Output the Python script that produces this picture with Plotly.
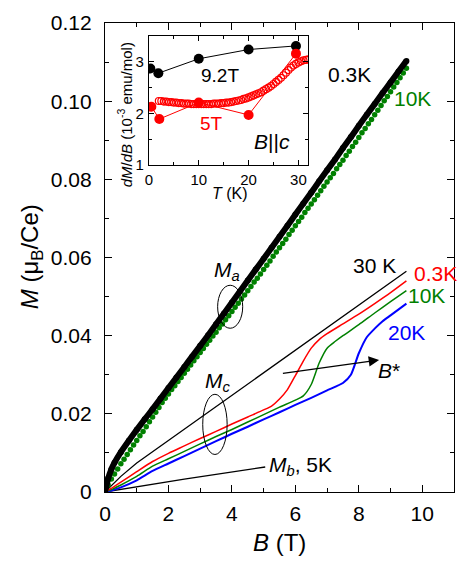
import plotly.graph_objects as go

# ---------------- data ----------------
# Ma, 0.3 K (black dots)
Ba_03 = [0, 0.1, 0.2, 0.3, 0.5, 0.75, 1.0, 1.25, 1.5, 1.75, 2.0, 2.25, 2.5, 2.75, 3.0, 3.25, 3.5, 3.75,
         4.0, 4.25, 4.5, 4.75, 5.0, 5.25, 5.5, 5.75, 6.0, 6.25, 6.5, 6.75, 7.0, 7.25, 7.5, 7.75, 8.0,
         8.25, 8.5, 8.75, 9.0, 9.25, 9.5]
Ma_03 = [0, 0.0035, 0.0058, 0.0075, 0.0102, 0.0131, 0.0159, 0.0186, 0.0212, 0.0239, 0.0266, 0.0293,
         0.0320, 0.0347, 0.0374, 0.0401, 0.0429, 0.0457, 0.0485, 0.0513, 0.0541, 0.0569, 0.0597, 0.0625,
         0.0653, 0.0681, 0.0710, 0.0738, 0.0766, 0.0795, 0.0823, 0.0851, 0.0880, 0.0908, 0.0937, 0.0965,
         0.0993, 0.1021, 0.1048, 0.1076, 0.1103]
# Ma, 10 K (green dots)
Ba_10 = [0.0, 0.1, 0.2, 0.3, 0.4, 0.5, 0.6, 0.7, 0.8, 0.9, 1.0, 1.1, 1.2, 1.3, 1.4, 1.5, 1.6, 1.7,
         1.8, 1.9, 2.0, 2.1, 2.2, 2.3, 2.4, 2.5, 2.6, 2.7, 2.8, 2.9, 3.0, 3.1, 3.2, 3.3, 3.4, 3.5,
         3.6, 3.7, 3.8, 3.9, 4.0, 4.1, 4.2, 4.3, 4.4, 4.5, 4.6, 4.7, 4.8, 4.9, 5.0, 5.1, 5.2, 5.3,
         5.4, 5.5, 5.6, 5.7, 5.8, 5.9, 6.0, 6.1, 6.2, 6.3, 6.4, 6.5, 6.6, 6.7, 6.8, 6.9, 7.0, 7.1,
         7.2, 7.3, 7.4, 7.5, 7.6, 7.7, 7.8, 7.9, 8.0, 8.1, 8.2, 8.3, 8.4, 8.5, 8.6, 8.7, 8.8, 8.9,
         9.0, 9.1, 9.2, 9.3, 9.4, 9.5]
Ma_10 = [0, 0.0018, 0.0033, 0.0046, 0.0059, 0.0072, 0.0084, 0.0096, 0.0108, 0.0120, 0.0132, 0.0144,
         0.0155, 0.0167, 0.0180, 0.0192, 0.0204, 0.0216, 0.0229, 0.0240, 0.0251, 0.0262, 0.0272,
         0.0283, 0.0293, 0.0304, 0.0314, 0.0325, 0.0336, 0.0346, 0.0357, 0.0367, 0.0378, 0.0388,
         0.0399, 0.0409, 0.0420, 0.0430, 0.0441, 0.0451, 0.0462, 0.0473, 0.0483, 0.0494, 0.0504,
         0.0515, 0.0526, 0.0537, 0.0547, 0.0558, 0.0569, 0.0580, 0.0591, 0.0603, 0.0614, 0.0625,
         0.0636, 0.0647, 0.0659, 0.0670, 0.0681, 0.0692, 0.0703, 0.0715, 0.0726, 0.0737, 0.0748,
         0.0759, 0.0771, 0.0782, 0.0793, 0.0804, 0.0815, 0.0827, 0.0838, 0.0849, 0.0861, 0.0872,
         0.0884, 0.0895, 0.0907, 0.0919, 0.0930, 0.0942, 0.0953, 0.0965, 0.0977, 0.0989, 0.1001,
         0.1012, 0.1024, 0.1036, 0.1048, 0.1060, 0.1072, 0.1084]
# Mc, 30 K (black line)
Bc_30 = [0, 0.5, 1, 2, 3, 4, 5, 6, 7, 8, 9, 9.5]
Mc_30 = [0, 0.0040, 0.0074, 0.0132, 0.0189, 0.0247, 0.0305, 0.0363, 0.0421, 0.0478, 0.0536, 0.0565]
# Mc, 0.3 K (red)
Bc_03 = [0, 0.25, 0.5, 1, 1.5, 2, 2.5, 3, 3.5, 4, 4.5, 5, 5.25, 5.5, 5.75, 6, 6.25, 6.5, 6.75, 7,
         7.5, 8, 8.5, 9, 9.5]
Mc_03 = [0, 0.0012, 0.0025, 0.0052, 0.0078, 0.0099, 0.0118, 0.0137, 0.0155, 0.0174, 0.0192, 0.0210,
         0.0220, 0.0238, 0.0262, 0.0298, 0.0335, 0.0368, 0.0390, 0.0405, 0.0430, 0.0455, 0.0482,
         0.0510, 0.0540]
# Mc, 10 K (green)
Bc_10 = [0, 0.25, 0.5, 1, 1.5, 2, 2.5, 3, 3.5, 4, 4.5, 5, 5.5, 6, 6.25, 6.5, 6.75, 7, 7.25, 7.5,
         8, 8.5, 9, 9.5]
Mc_10 = [0, 0.0008, 0.0018, 0.0040, 0.0066, 0.0085, 0.0104, 0.0123, 0.0142, 0.0160, 0.0179, 0.0198,
         0.0217, 0.0235, 0.0246, 0.0275, 0.0330, 0.0368, 0.0385, 0.0400, 0.0428, 0.0458, 0.0487, 0.0515]
# Mc, 20 K (blue)
Bc_20 = [0, 0.25, 0.5, 1, 1.5, 2, 2.5, 3, 3.5, 4, 4.5, 5, 5.5, 6, 6.5, 7, 7.5, 7.75, 8, 8.25, 8.5,
         8.75, 9, 9.5]
Mc_20 = [0, 0.0005, 0.0012, 0.0030, 0.0054, 0.0073, 0.0092, 0.0111, 0.0130, 0.0149, 0.0167, 0.0186,
         0.0204, 0.0223, 0.0241, 0.0260, 0.0279, 0.0300, 0.0355, 0.0396, 0.0418, 0.0437, 0.0452, 0.0482]
# Mb, 5 K
Bb_5 = [0, 2.5, 5.05]
Mb_5 = [0, 0.0033, 0.0064]

# inset: dM/dB vs T
T_92 = [0.3, 1.9, 10, 20, 29.5]
D_92 = [2.87, 2.78, 3.06, 3.24, 3.31]
T_5 = [0.5, 2.1, 10, 20, 29.5]
D_5 = [2.13, 1.89, 2.21, 1.97, 3.16]
T_open = [2.0, 2.5, 3, 3.5, 4, 4.5, 5, 5.5, 6, 6.5, 7, 7.5, 8, 8.5, 9, 9.5, 10, 10.5, 11, 11.5, 12,
          12.5, 13, 13.5, 14, 14.5, 15, 15.5, 16, 16.5, 17, 17.5, 18, 18.5, 19, 19.5, 20, 20.5, 21,
          21.5, 22, 22.5, 23, 23.5, 24, 24.5, 25, 25.5, 26, 26.5, 27, 27.5, 28, 28.5, 29, 29.5, 30,
          30.5, 31, 31.5, 32]
D_open = [2.24, 2.24, 2.23, 2.23, 2.22, 2.22, 2.21, 2.21, 2.20, 2.20, 2.19, 2.19, 2.19, 2.18, 2.18,
          2.18, 2.18, 2.18, 2.18, 2.18, 2.18, 2.18, 2.19, 2.19, 2.19, 2.20, 2.20, 2.21, 2.21, 2.22,
          2.23, 2.24, 2.25, 2.26, 2.28, 2.29, 2.31, 2.33, 2.35, 2.37, 2.39, 2.41, 2.44, 2.47, 2.50,
          2.53, 2.57, 2.61, 2.65, 2.69, 2.74, 2.79, 2.84, 2.89, 2.93, 2.96, 2.99, 3.01, 3.03, 3.04, 3.05]

x_ticks = [0, 2, 4, 6, 8, 10]
y_ticks = [0, 0.02, 0.04, 0.06, 0.08, 0.10, 0.12]
y_ticktext = ["0", "0.02", "0.04", "0.06", "0.08", "0.10", "0.12"]
ix_ticks = [0, 10, 20, 30]
iy_ticks = [1, 2, 3]

# ---------------- styling ----------------
FONT = "Arial, Liberation Sans, sans-serif"
BLACK = "#000000"
RED = "#ff0000"
GREEN = "#008000"
BLUE = "#0000ff"

fig = go.Figure()

# main panel
fig.add_trace(go.Scatter(x=Bc_30, y=Mc_30, mode="lines", line=dict(color=BLACK, width=1.3)))
fig.add_trace(go.Scatter(x=Bb_5, y=Mb_5, mode="lines", line=dict(color=BLACK, width=1.3)))
fig.add_trace(go.Scatter(x=Bc_20, y=Mc_20, mode="lines", line=dict(color=BLUE, width=2, shape="spline", smoothing=0.6)))
fig.add_trace(go.Scatter(x=Bc_10, y=Mc_10, mode="lines", line=dict(color=GREEN, width=1.5, shape="spline", smoothing=0.6)))
fig.add_trace(go.Scatter(x=Bc_03, y=Mc_03, mode="lines", line=dict(color=RED, width=1.5, shape="spline", smoothing=0.6)))
fig.add_trace(go.Scatter(x=Ba_10, y=Ma_10, mode="markers", marker=dict(color=GREEN, size=5.5, line=dict(width=0))))
fig.add_trace(go.Scatter(x=Ba_03, y=Ma_03, mode="lines+markers",
                         line=dict(color=BLACK, width=6, shape="spline", smoothing=0.5),
                         marker=dict(color=BLACK, size=6)))

# inset
fig.add_trace(go.Scatter(x=T_92, y=D_92, mode="lines+markers", xaxis="x2", yaxis="y2",
                         line=dict(color=BLACK, width=1), marker=dict(color=BLACK, size=10)))
fig.add_trace(go.Scatter(x=T_open, y=D_open, mode="markers", xaxis="x2", yaxis="y2",
                         marker=dict(symbol="circle-open", color=RED, size=7, line=dict(width=1.2))))
fig.add_trace(go.Scatter(x=T_5, y=D_5, mode="lines+markers", xaxis="x2", yaxis="y2",
                         line=dict(color=RED, width=1), marker=dict(color=RED, size=10)))

axis_common = dict(showline=True, linecolor=BLACK, linewidth=1.3, mirror="ticks", ticks="inside",
                   tickcolor=BLACK, showgrid=False, zeroline=False)

fig.update_layout(
    width=466, height=563,
    margin=dict(l=105, r=11, t=16, b=71),
    paper_bgcolor="white", plot_bgcolor="white",
    showlegend=False,
    font=dict(family=FONT, color=BLACK),
    xaxis=dict(range=[0, 11], tickvals=x_ticks, ticklen=7, tickwidth=1.3,
               minor=dict(ticks="inside", dtick=1, ticklen=4, tickcolor=BLACK, tickwidth=1.3),
               tickfont=dict(size=21), ticklabelstandoff=3, **axis_common),
    yaxis=dict(range=[0, 0.12], tickvals=y_ticks, ticktext=y_ticktext, ticklen=7, tickwidth=1.3,
               minor=dict(ticks="inside", dtick=0.01, ticklen=4, tickcolor=BLACK, tickwidth=1.3),
               tickfont=dict(size=21), ticklabelstandoff=8, **axis_common),
    xaxis2=dict(domain=[0.1257, 0.5829], anchor="y2", range=[0, 32], tickvals=ix_ticks, ticklen=5,
                minor=dict(ticks="inside", dtick=5, ticklen=3, tickcolor=BLACK),
                tickfont=dict(size=15), ticklabelstandoff=1, **axis_common),
    yaxis2=dict(domain=[0.6975, 0.972], anchor="x2", range=[1, 3.5], tickvals=iy_ticks, ticklen=5,
                minor=dict(ticks="inside", dtick=0.5, ticklen=3, tickcolor=BLACK),
                tickfont=dict(size=15), ticklabelstandoff=1, **axis_common),
)

ann = []
def add_text(x, y, text, color=BLACK, size=21, xref="x", yref="y", angle=0, xanchor="center"):
    ann.append(dict(x=x, y=y, xref=xref, yref=yref, text=text, showarrow=False,
                    font=dict(size=size, color=color, family=FONT), textangle=angle,
                    xanchor=xanchor, yanchor="middle"))

# axis titles
add_text(-0.21, 0.502, "<i>M</i> (μ<sub>B</sub>/Ce)", size=24, xref="paper", yref="paper", angle=-90)
add_text(0.5, -0.107, "<i>B</i> (T)", size=24, xref="paper", yref="paper")
add_text(0.057, 0.805, "<i>dM</i>/<i>dB</i> (10<sup>-3</sup> emu/mol)", size=15, xref="paper", yref="paper", angle=-90)
add_text(0.357, 0.636, "<i>T</i> (K)", size=16, xref="paper", yref="paper")

# main labels
add_text(7.70, 0.1069, "0.3K")
add_text(9.68, 0.1006, "10K", GREEN)
add_text(3.85, 0.0565, "<i>M<sub>a</sub></i>")
add_text(3.55, 0.0282, "<i>M<sub>c</sub></i>")
add_text(8.49, 0.0580, "30 K")
add_text(10.43, 0.0560, "0.3K", RED)
add_text(10.12, 0.0504, "10K", GREEN)
add_text(9.49, 0.0408, "20K", BLUE)
add_text(8.96, 0.0310, "<i>B</i>*")
add_text(5.12, 0.0066, "<i>M<sub>b</sub></i>, 5K", xanchor="left")

# inset labels
add_text(14.3, 2.73, "9.2T", size=19, xref="x2", yref="y2")
add_text(12.5, 1.81, "5T", RED, size=19, xref="x2", yref="y2")
add_text(24.7, 1.45, "<i>B</i>||<i>c</i>", size=21, xref="x2", yref="y2")

# arrow to B*
ann.append(dict(x=8.64, y=0.0338, ax=5.56, ay=0.0303, xref="x", yref="y", axref="x", ayref="y",
                showarrow=True, arrowhead=2, arrowsize=1.6, arrowwidth=1.3, arrowcolor=BLACK, text=""))

fig.update_layout(annotations=ann)

# ellipses around Ma and Mc curves
fig.add_shape(type="circle", xref="x", yref="y", x0=3.55, x1=4.34, y0=0.0419, y1=0.0529,
              line=dict(color=BLACK, width=1))
fig.add_shape(type="circle", xref="x", yref="y", x0=3.08, x1=3.85, y0=0.0096, y1=0.0250,
              line=dict(color=BLACK, width=1))

fig.write_html("out.html")
